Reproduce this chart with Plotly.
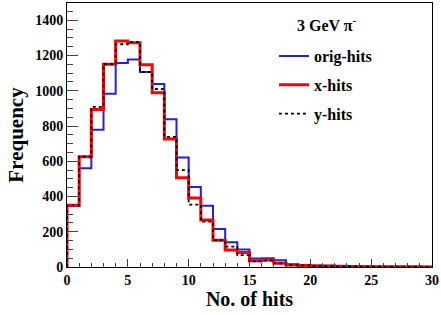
import plotly.graph_objects as go

bin_edges = list(range(0, 31))
orig_hits = [348, 560, 779, 983, 1157, 1178, 1106, 1038, 838, 622, 454, 347, 216, 141, 99,
             48, 50, 39, 15, 12, 9, 7, 5, 4, 3, 2, 2, 1, 1, 1]
x_hits = [350, 626, 894, 1151, 1283, 1272, 1147, 989, 726, 506, 392, 267, 152, 96, 82,
          36, 40, 21, 12, 9, 6, 5, 4, 3, 2, 2, 1, 1, 1, 0]
y_hits = [350, 626, 909, 1151, 1264, 1277, 1106, 1010, 738, 550, 354, 258, 152, 116, 67,
          32, 36, 21, 11, 9, 6, 5, 4, 3, 2, 2, 1, 1, 1, 1]
header = "3 GeV π<sup>-</sup>"

FONT = "Liberation Serif"

def step(vals):
    xs = [bin_edges[0]] + bin_edges
    ys = [0] + list(vals) + [vals[-1]]
    return xs, ys

fig = go.Figure()
series = [
    ("orig-hits", orig_hits, dict(color="#1f1fee", width=2)),
    ("x-hits", x_hits, dict(color="#ff0000", width=3)),
    ("y-hits", y_hits, dict(color="black", width=1.8, dash="3px,3px")),
]
for name, vals, line in series:
    xs, ys = step(vals)
    fig.add_trace(go.Scatter(x=xs, y=ys, mode="lines", line_shape="hv", name=name,
                             line=line, legendgroup=name))

fig.update_layout(
    width=441, height=315,
    margin=dict(l=67, r=9, t=3, b=48, autoexpand=False),
    paper_bgcolor="white", plot_bgcolor="white",
    font=dict(family=FONT, color="black"),
    showlegend=True,
    legend=dict(
        x=0.567, y=0.863, xanchor="left", yanchor="top",
        bgcolor="rgba(0,0,0,0)", borderwidth=0,
        font=dict(family=FONT, size=16, weight="bold"),
        itemwidth=30, tracegroupgap=5,
    ),
    annotations=[dict(
        text=header, xref="paper", yref="paper", x=0.712, y=0.922,
        xanchor="center", yanchor="middle", showarrow=False,
        font=dict(family=FONT, size=16, weight="bold"),
    )],
)
fig.update_xaxes(
    range=[0, 30], dtick=5, tick0=0, automargin=False,
    showline=True, mirror=True, linecolor="black", linewidth=1,
    showgrid=False, zeroline=False,
    ticks="inside", ticklen=8, tickcolor="#444", tickwidth=1,
    minor=dict(ticks="inside", ticklen=4, dtick=1, tickcolor="#444", showgrid=False),
    tickfont=dict(family=FONT, size=14, weight="bold"),
    title=dict(text="No. of hits", font=dict(family=FONT, size=20, weight="bold"), standoff=0),
)
fig.update_yaxes(
    range=[0, 1498], dtick=200, tick0=0, automargin=False,
    showline=True, mirror=True, linecolor="black", linewidth=1,
    showgrid=False, zeroline=False,
    ticks="inside", ticklen=11, tickcolor="#444", tickwidth=1,
    minor=dict(ticks="inside", ticklen=5.5, dtick=50, tickcolor="#444", showgrid=False),
    tickfont=dict(family=FONT, size=14, weight="bold"),
    title=dict(text="Frequency", font=dict(family=FONT, size=21, weight="bold"), standoff=5),
)

fig.write_html("out.html", config={"displayModeBar": False},
               post_script="document.body.style.margin='0';")
